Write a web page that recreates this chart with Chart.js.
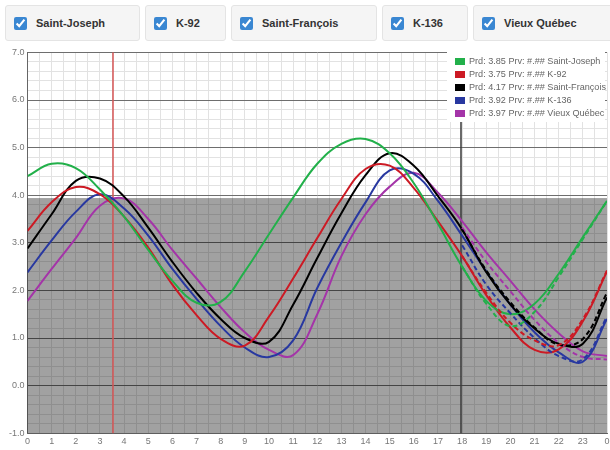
<!DOCTYPE html>
<html>
<head>
<meta charset="utf-8">
<script src="https://cdn.jsdelivr.net/npm/chart.js@4.4.0/dist/chart.umd.min.js"></script>
<style>
  body { margin: 0; width: 610px; height: 450px; overflow: hidden; background: #fff;
         font-family: "Liberation Sans", Arial, sans-serif; position: relative; }
  #bar { position: absolute; left: 5px; top: 5px; display: flex; gap: 5px; white-space: nowrap; }
  .stn { box-sizing: border-box; height: 36px; background: #f5f5f5; border: 1px solid #e4e4e4;
         border-radius: 3px; display: flex; align-items: center; padding-left: 8px;
         font-weight: bold; font-size: 11px; color: #333; }
  .stn input { width: 13px; height: 13px; margin: 0 9px 0 0; accent-color: #3a87d2; }
  .stn:nth-child(1) { width: 135px; }
  .stn:nth-child(2) { width: 81px; }
  .stn:nth-child(3) { width: 146px; }
  .stn:nth-child(4) { width: 86px; }
  .stn:nth-child(5) { width: 150px; }
  #wrap { position: absolute; left: 0; top: 44px; width: 617px; height: 406px; }
  #legend { position: absolute; left: 447px; top: 51px; width: 158px; height: 71px;
            background: #fff; font-size: 9.1px; color: #666; }
  .item { position: absolute; left: 8px; height: 13px; line-height: 13px; white-space: nowrap; }
  .sw { display: inline-block; width: 10px; height: 7px; margin-right: 4px; vertical-align: -1px; }
</style>
</head>
<body>
<div id="bar"></div>
<div id="wrap"><canvas id="tideChart"></canvas></div>
<div id="legend"></div>
<script>
// stations and current predicted level shown in the legend
const stations = ['Saint-Joseph', 'K-92', 'Saint-François', 'K-136', 'Vieux Québec'];
const prd = [3.85, 3.75, 4.17, 3.92, 3.97];
const colors = ['rgb(34,176,74)', 'rgb(204,26,36)', '#000000', 'rgb(40,56,160)', 'rgb(164,52,168)'];

// hourly predicted levels (m)
const hours = [0,1,2,3,4,5,6,7,8,9,10,11,12,13,14,15,16,17,18,19,20,21,22,23,24];
const stJoseph   = [4.40,4.66,4.57,4.12,3.55,2.85,2.20,1.74,1.76,2.40,3.18,3.95,4.66,5.08,5.18,4.88,4.25,3.40,2.50,1.78,1.50,1.72,2.35,3.12,3.88];
const k92        = [3.25,3.85,4.17,4.02,3.55,2.90,2.12,1.48,0.98,0.84,1.45,2.25,3.10,3.92,4.55,4.62,4.15,3.45,2.72,1.90,1.22,0.75,0.76,1.35,2.40];
const stFrancois = [2.88,3.60,4.30,4.35,3.97,3.32,2.60,1.95,1.40,1.00,0.92,1.70,2.68,3.62,4.42,4.88,4.62,3.98,3.28,2.38,1.70,1.20,0.88,0.88,1.85];
const k136       = [2.38,3.05,3.65,4.02,3.72,3.15,2.45,1.82,1.25,0.80,0.60,0.95,2.05,3.00,3.85,4.52,4.45,3.88,3.15,2.40,1.70,1.12,0.70,0.50,1.40];
const vieuxQc    = [1.78,2.45,3.10,3.78,3.93,3.50,2.85,2.25,1.65,1.12,0.75,0.64,1.50,2.72,3.60,4.18,4.47,4.05,3.45,2.80,2.20,1.60,1.10,0.72,0.62];

// dashed series after the cursor
const dashHours = [18,19,20,21,22,23,24];
const stJosephD   = [2.50,1.72,1.25,1.55,2.28,3.08,3.88];
const k92D        = [2.72,1.95,1.32,0.95,0.85,1.40,2.42];
const stFrancoisD = [3.28,2.42,1.75,1.22,0.86,0.98,1.95];
const k136D       = [2.95,2.12,1.52,1.00,0.62,0.55,1.45];
const vieuxQcD    = [3.32,2.60,1.98,1.38,0.90,0.60,0.55];

const zoneTop = 3.94;          // top of shaded band
const markers = [3.55, 17.95]; // vertical cursors

// buttons
const bar = document.getElementById('bar');
stations.forEach(function(name) {
    const d = document.createElement('label');
    d.className = 'stn';
    d.innerHTML = '<input type="checkbox" checked>' + name;
    bar.appendChild(d);
});

// legend
const leg = document.getElementById('legend');
stations.forEach(function(name, i) {
    const d = document.createElement('div');
    d.className = 'item';
    d.style.top = (4 + 13 * i) + 'px';
    d.innerHTML = '<span class="sw" style="background:' + colors[i] + '"></span>Prd: ' +
        prd[i].toFixed(2) + ' Prv: #.## ' + name;
    leg.appendChild(d);
});

function pts(xs, ys) {
    return xs.map((x, i) => ({x: x, y: ys[i]}));
}

const solid = [stJoseph, k92, stFrancois, k136, vieuxQc];
const dashed = [stJosephD, k92D, stFrancoisD, k136D, vieuxQcD];

const datasets = [];
dashed.forEach(function(arr, i) {
    datasets.push({
        label: stations[i] + ' prv',
        data: pts(dashHours, arr),
        borderColor: colors[i],
        borderDash: [5, 3],
        borderWidth: 2
    });
});
solid.forEach(function(arr, i) {
    datasets.push({
        label: stations[i],
        data: pts(hours, arr),
        borderColor: colors[i],
        borderWidth: 2
    });
});

function isInt(v) {
    return Math.abs(v - Math.round(v)) < 1e-6;
}

const zonePlugin = {
    id: 'zone',
    beforeDatasetsDraw(chart) {
        const ctx = chart.ctx;
        const a = chart.chartArea;
        const x = chart.scales.x;
        const y = chart.scales.y;
        ctx.save();
        const top = y.getPixelForValue(zoneTop);
        ctx.fillStyle = 'rgba(0,0,0,0.37)';
        ctx.fillRect(a.left, top, a.right - a.left, a.bottom - top);

        // red cursor, then dark cursor
        ctx.fillStyle = 'rgb(214,86,86)';
        let px = Math.round(x.getPixelForValue(markers[0]));
        ctx.fillRect(px - 0.75, a.top, 1.5, a.bottom - a.top);

        ctx.fillStyle = '#3a3a3a';
        px = Math.round(x.getPixelForValue(markers[1]));
        ctx.fillRect(px - 0.75, a.top, 1.5, a.bottom - a.top);
        ctx.restore();
    }
};

Chart.defaults.font.family = '"Liberation Sans", Arial, sans-serif';

var ctx = document.getElementById('tideChart').getContext('2d');
var tideChart = new Chart(ctx, {
    type: 'line',
    data: { datasets: datasets },
    plugins: [zonePlugin],
    options: {
        maintainAspectRatio: false,
        responsive: true,
        animation: false,
        layout: { padding: { left: 6, right: 10, top: 6, bottom: 0 } },
        plugins: {
            legend: { display: false },
            tooltip: { enabled: false }
        },
        elements: {
            point: { radius: 0 },
            line: { tension: 0.4 }
        },
        scales: {
            x: {
                type: 'linear',
                min: 0,
                max: 24,
                ticks: {
                    stepSize: 0.5,
                    autoSkip: false,
                    maxRotation: 0,
                    padding: 3,
                    color: '#777',
                    font: { size: 9 },
                    callback: function(v) { return isInt(v) ? String(Math.round(v) % 24) : ''; }
                },
                grid: { color: '#e2e2e2', drawTicks: false },
                border: { color: '#666' }
            },
            y: {
                min: -1,
                max: 7,
                ticks: {
                    stepSize: 0.2,
                    autoSkip: false,
                    padding: 3,
                    color: '#777',
                    font: { size: 9 },
                    callback: function(v) { return isInt(v) ? Number(v).toFixed(1) : ''; }
                },
                grid: {
                    drawTicks: false,
                    color: function(c) { return isInt(c.tick.value) ? '#6e6e6e' : '#e2e2e2'; }
                },
                border: { color: '#666' }
            }
        }
    }
});
</script>
</body>
</html>
